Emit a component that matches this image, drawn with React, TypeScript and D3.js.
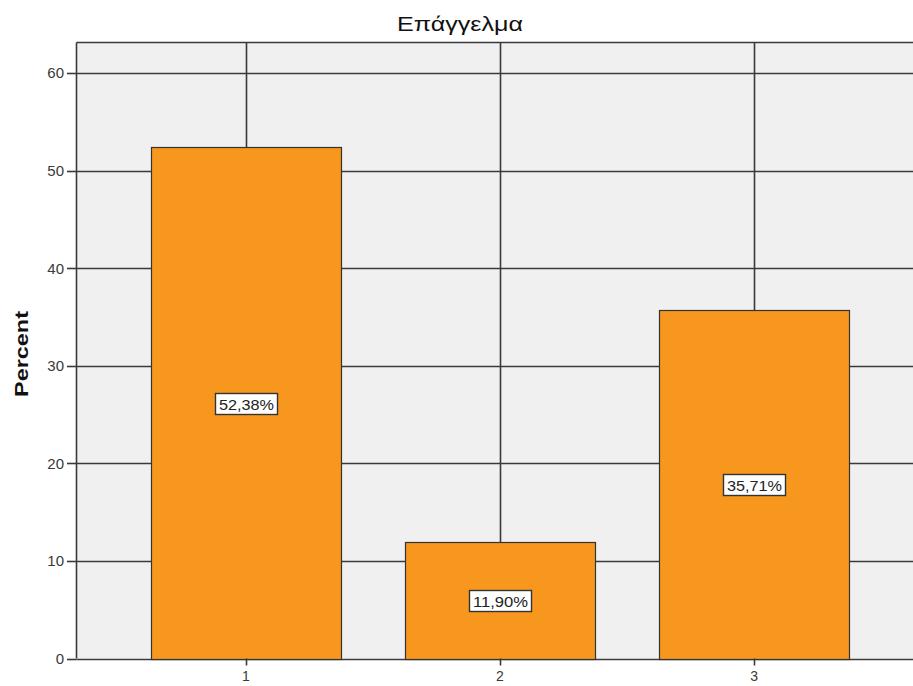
import React, { useEffect, useRef } from 'react';
import * as d3 from 'd3';

const categories = ['1', '2', '3'];
const percents = [52.38, 11.9, 35.71];
const percentLabels = ['52,38%', '11,90%', '35,71%'];
const yTicks = [0, 10, 20, 30, 40, 50, 60];

const App = () => {
  const ref = useRef<SVGSVGElement | null>(null);

  useEffect(() => {
    const width = 913;
    const height = 686;
    const left = 76.5, top = 42.5, bottom = 658.5, right = 923.5;

    const svg = d3.select(ref.current);
    svg.selectAll('*').remove();
    svg.attr('width', width).attr('height', height)
      .style('font-family', '"Liberation Sans", Arial, sans-serif');

    const y = d3.scaleLinear().domain([0, 60]).range([bottom, 73]);
    const x = d3.scaleBand<string>().domain(categories).range([left, right])
      .paddingInner(0.252).paddingOuter(0.293);
    const cx = (c: string) => (x(c) as number) + x.bandwidth() / 2;

    svg.append('rect')
      .attr('x', left).attr('y', top)
      .attr('width', right - left).attr('height', bottom - top)
      .attr('fill', '#f0f0f0');

    // grid
    const grid = svg.append('g').attr('stroke', '#3a3a3a').attr('stroke-width', 1.6);
    grid.selectAll('line.h').data(yTicks).join('line')
      .attr('x1', left).attr('x2', right)
      .attr('y1', d => Math.round(y(d)) + 0.5).attr('y2', d => Math.round(y(d)) + 0.5);
    grid.selectAll('line.v').data(categories).join('line')
      .attr('x1', d => Math.round(cx(d)) + 0.5).attr('x2', d => Math.round(cx(d)) + 0.5)
      .attr('y1', top).attr('y2', bottom);
    grid.append('line').attr('x1', left).attr('x2', right).attr('y1', top).attr('y2', top);
    grid.append('line').attr('x1', left).attr('x2', left).attr('y1', top).attr('y2', bottom);

    // bars
    svg.append('g').selectAll('rect').data(percents).join('rect')
      .attr('x', (d, i) => Math.round(x(categories[i]) as number) + 0.5)
      .attr('y', d => Math.round(y(d)) + 0.5)
      .attr('width', Math.round(x.bandwidth()))
      .attr('height', d => Math.round(y(0)) - Math.round(y(d)))
      .attr('fill', '#f7971e')
      .attr('stroke', '#333')
      .attr('stroke-width', 1.2);

    // y axis
    const ya = svg.append('g');
    ya.selectAll('line').data(yTicks).join('line')
      .attr('x1', 67).attr('x2', left)
      .attr('y1', d => Math.round(y(d)) + 0.5).attr('y2', d => Math.round(y(d)) + 0.5)
      .attr('stroke', '#3a3a3a').attr('stroke-width', 1.6);
    ya.selectAll('text').data(yTicks).join('text')
      .attr('x', 64).attr('y', d => y(d))
      .attr('dy', '0.36em')
      .attr('text-anchor', 'end')
      .attr('font-size', 15)
      .attr('fill', '#3a3a3a')
      .text(d => d);

    // x axis
    const xa = svg.append('g');
    xa.selectAll('line').data(categories).join('line')
      .attr('x1', d => Math.round(cx(d)) + 0.5).attr('x2', d => Math.round(cx(d)) + 0.5)
      .attr('y1', bottom).attr('y2', bottom + 7)
      .attr('stroke', '#3a3a3a').attr('stroke-width', 1.6);
    xa.selectAll('text').data(categories).join('text')
      .attr('x', d => cx(d)).attr('y', 681)
      .attr('text-anchor', 'middle')
      .attr('font-size', 14)
      .attr('fill', '#3a3a3a')
      .text(d => d);

    // value labels
    const lab = svg.append('g').selectAll('g').data(percents).join('g')
      .attr('transform', (d, i) => `translate(${Math.round(cx(categories[i])) + 0.5},${Math.round(y(d / 2)) + 0.5})`);
    lab.append('rect')
      .attr('x', -31).attr('y', -10).attr('width', 62).attr('height', 21)
      .attr('fill', '#fff').attr('stroke', '#333').attr('stroke-width', 1.4);
    lab.append('text')
      .attr('text-anchor', 'middle').attr('y', 6)
      .attr('font-size', 15).attr('fill', '#222')
      .attr('textLength', 55).attr('lengthAdjust', 'spacingAndGlyphs')
      .text((d, i) => percentLabels[i]);

    // title and axis title
    svg.append('text')
      .attr('x', 460).attr('y', 31)
      .attr('text-anchor', 'middle')
      .attr('font-size', 20).attr('fill', '#111')
      .attr('textLength', 126).attr('lengthAdjust', 'spacingAndGlyphs')
      .text('Επάγγελμα');
    svg.append('text')
      .attr('transform', 'translate(28,354) rotate(-90)')
      .attr('text-anchor', 'middle')
      .attr('font-size', 19).attr('font-weight', 'bold').attr('fill', '#111')
      .attr('textLength', 86).attr('lengthAdjust', 'spacingAndGlyphs')
      .text('Percent');
  }, []);

  return <svg ref={ref} style={{ position: 'absolute', left: 0, top: 0, display: 'block' }} />;
};

export default App;
